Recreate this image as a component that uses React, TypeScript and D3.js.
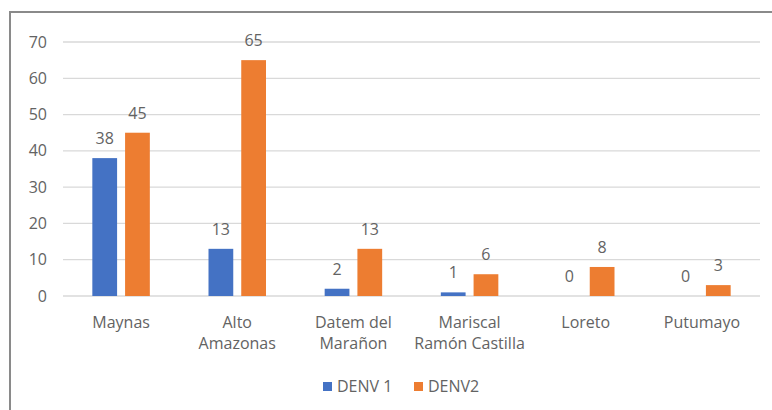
import React from "react";
import * as d3 from "d3";

const categories = [
  "Maynas",
  "Alto Amazonas",
  "Datem del Marañon",
  "Mariscal Ramón Castilla",
  "Loreto",
  "Putumayo",
];
// line breaks as shown in the reference axis labels
const categoryLines = [
  ["Maynas"],
  ["Alto", "Amazonas"],
  ["Datem del", "Marañon"],
  ["Mariscal", "Ramón Castilla"],
  ["Loreto"],
  ["Putumayo"],
];
const seriesNames = ["DENV 1", "DENV2"];
const denv1 = [38, 13, 2, 1, 0, 0];
const denv2 = [45, 65, 13, 6, 8, 3];
const yTicks = [0, 10, 20, 30, 40, 50, 60, 70];
const colors = ["#4472C4", "#ED7D31"];

const W = 772;
const H = 410;
const FONT = "'Open Sans', 'Noto Sans', sans-serif";
const TEXT = "#636363";

export default function App() {
  const plotLeft = 63;
  const plotRight = 760;
  const y = d3.scaleLinear().domain([0, 70]).range([296, 42]);
  const x0 = d3
    .scaleBand<string>()
    .domain(categories)
    .range([plotLeft, plotRight])
    .paddingInner(0.505)
    .paddingOuter(0.2525);
  const x1 = d3
    .scaleBand<string>()
    .domain(seriesNames)
    .range([0, x0.bandwidth()])
    .paddingInner(0.244)
    .paddingOuter(0);
  const series = [denv1, denv2];

  return (
    <svg
      width={W}
      height={H}
      style={{ position: "absolute", left: 0, top: 0, background: "#fff" }}
      fontFamily={FONT}
    >
      <rect x={0} y={0} width={W} height={H} fill="#fff" />
      {/* chart border */}
      <rect x={10} y={12} width={W + 20} height={H + 20} fill="none" stroke="#8a8a8a" strokeWidth={2} />
      {/* gridlines */}
      {yTicks.map((t) => (
        <g key={t}>
          <line
            x1={plotLeft}
            x2={plotRight}
            y1={y(t)}
            y2={y(t)}
            stroke="#d9d9d9"
            strokeWidth={1.3}
          />
          <text
            x={47}
            y={y(t)}
            dy="0.35em"
            textAnchor="end"
            fontSize={16}
            fill={TEXT}
          >
            {t}
          </text>
        </g>
      ))}
      {/* bars */}
      {categories.map((c, i) => (
        <g key={c} transform={`translate(${x0(c)},0)`}>
          {series.map((s, j) => {
            const v = s[i];
            const bx = x1(seriesNames[j])!;
            const bw = x1.bandwidth();
            return (
              <g key={j}>
                {v > 0 && (
                  <rect x={bx} y={y(v)} width={bw} height={y(0) - y(v)} fill={colors[j]} />
                )}
                <text
                  x={bx + bw / 2}
                  y={y(v) - 14}
                  textAnchor="middle"
                  fontSize={16}
                  fill={TEXT}
                >
                  {v}
                </text>
              </g>
            );
          })}
        </g>
      ))}
      {/* category labels */}
      {categories.map((c, i) => (
        <text
          key={c}
          x={x0(c)! + x0.bandwidth() / 2}
          y={327.5}
          textAnchor="middle"
          fontSize={16}
          fill={TEXT}
        >
          {categoryLines[i].map((ln, k) => (
            <tspan key={k} x={x0(c)! + x0.bandwidth() / 2} dy={k === 0 ? 0 : 21}>
              {ln}
            </tspan>
          ))}
        </text>
      ))}
      {/* legend */}
      {seriesNames.map((s, j) => {
        const lx = j === 0 ? 323 : 414;
        return (
          <g key={s}>
            <rect x={lx} y={382} width={9} height={9} fill={colors[j]} />
            <text x={lx + 14} y={392} fontSize={16} fill={TEXT}>
              {s}
            </text>
          </g>
        );
      })}
    </svg>
  );
}
